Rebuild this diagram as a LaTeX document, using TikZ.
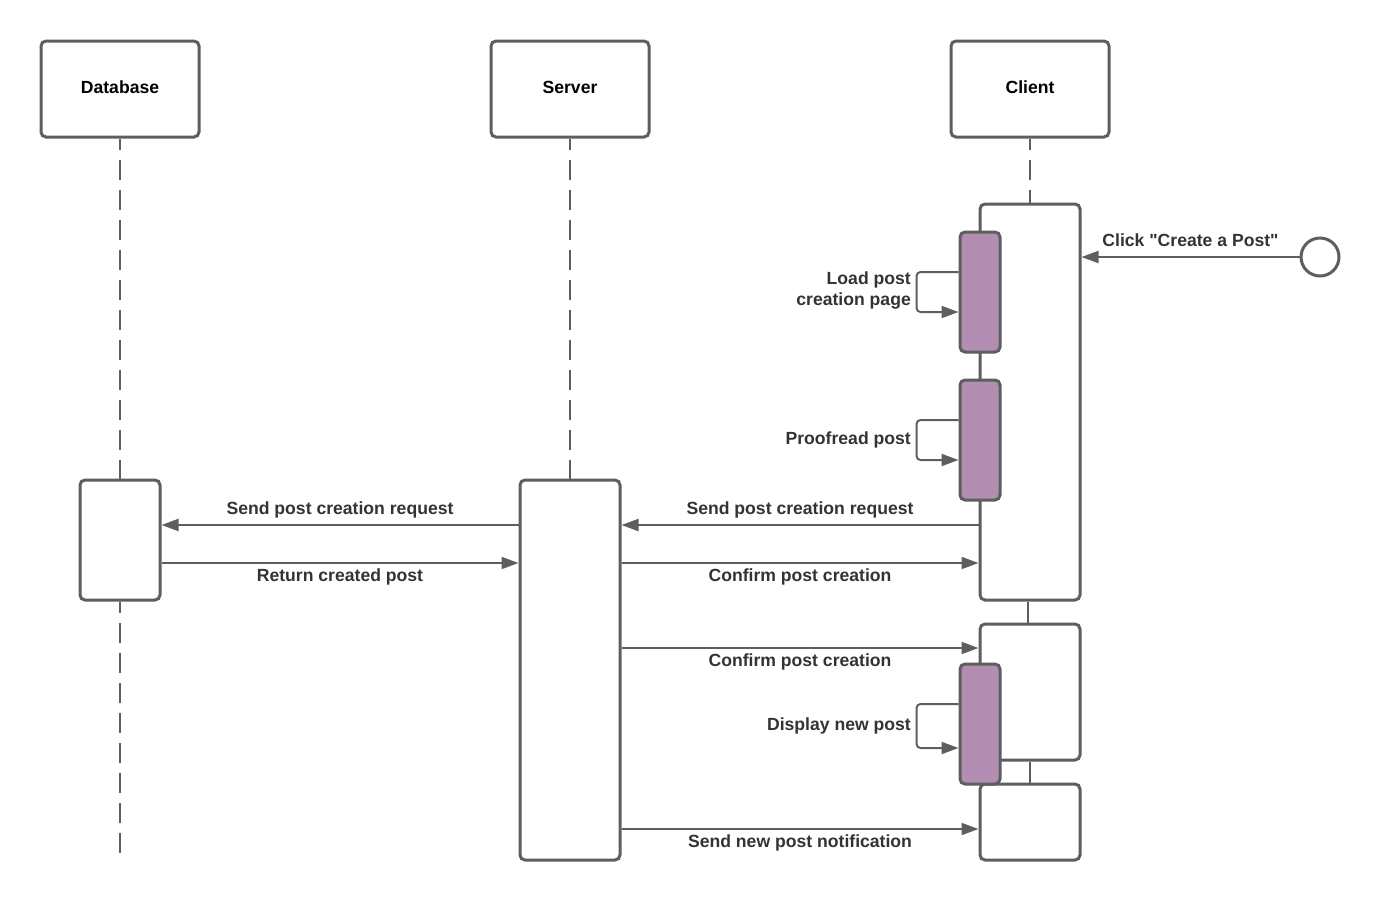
\documentclass[tikz,border=0pt]{standalone}
\usepackage{fontspec}
\setmainfont{Liberation Sans}[Ligatures=TeXOff]
\usetikzlibrary{arrows.meta}
\definecolor{linegray}{RGB}{94,94,94}
\definecolor{actpurple}{RGB}{179,142,179}
\definecolor{labelgray}{RGB}{51,51,51}
\tikzset{
  head/.style={draw=linegray, line width=3pt, rounded corners=5pt, fill=white, text depth=4pt,
    minimum width=158pt, minimum height=96pt, font=\bfseries\fontsize{17.6}{21}\selectfont},
  act/.style={draw=linegray, line width=3pt, rounded corners=5pt, fill=white, inner sep=0pt},
  sub/.style={act, fill=actpurple, minimum width=40pt, minimum height=120pt},
  lifeline/.style={draw=linegray, line width=2pt, dash pattern=on 20pt off 10pt, dash phase=9pt},
  link/.style={draw=linegray, line width=2pt},
  msg/.style={draw=linegray, line width=2pt, -{Triangle[length=17pt,width=12pt]}},
  selfmsg/.style={msg, rounded corners=4pt},
  lbl/.style={text=labelgray, font=\bfseries\fontsize{17.6}{21}\selectfont, inner sep=0pt},
}
\begin{document}
\begin{tikzpicture}[x=1pt,y=-1pt]
  \useasboundingbox (0,0) rectangle (1380,900);
  % Heads
  \node[head] (db)  at (120,89)  {Database};
  \node[head] (srv) at (570,89)  {Server};
  \node[head] (cli) at (1030,89) {Client};
  % Activations
  \node[act, minimum width=80pt,  minimum height=120pt] (dbAct)  at (120,540)  {};
  \node[act, minimum width=100pt, minimum height=380pt] (srvAct) at (570,670)  {};
  \node[act, minimum width=100pt, minimum height=396pt] (cAct1)  at (1030,402) {};
  \node[act, minimum width=100pt, minimum height=136pt] (cAct2)  at (1030,692) {};
  \node[act, minimum width=100pt, minimum height=76pt]  (cAct3)  at (1030,822) {};
  \node[sub] (load)    at (980,292) {};
  \node[sub] (proof)   at (980,440) {};
  \node[sub] (display) at (980,724) {};
  \node[draw=linegray, line width=3pt, circle, fill=white, minimum size=38pt] (start) at (1320,257) {};
  % Coordinates
  \coordinate (dbEnd) at (120,862);
  \coordinate (yReq)  at (0,525);
  \coordinate (yRet)  at (0,563);
  \coordinate (yConf) at (0,648);
  \coordinate (yNote) at (0,829);

  % Lifelines
  \draw[lifeline] (db.south) -- (dbAct.north);
  \draw[lifeline] (dbAct.south) -- (dbEnd);
  \draw[lifeline] (srv.south) -- (srvAct.north);
  \draw[lifeline] (cli.south) -- (cAct1.north);
  \draw[link] ([xshift=-2pt]cAct1.south) -- ([xshift=-2pt]cAct2.north);
  \draw[link] (cAct2.south) -- (cAct3.north);

  % Messages
  \draw[msg] (start.west) -- node[lbl, anchor=base, yshift=11pt] (lClick) {Click "Create a Post"} (cAct1.east |- start);
  \draw[selfmsg] ([yshift=20pt]load.west) -- ++(-42,0) -- ++(0,40) -- ([yshift=-20pt]load.west);
  \draw[selfmsg] ([yshift=20pt]proof.west) -- ++(-42,0) -- ++(0,40) -- ([yshift=-20pt]proof.west);
  \draw[selfmsg] ([yshift=20pt]display.west) -- ++(-42,0) -- ++(0,44) -- ([yshift=-24pt]display.west);
  \draw[msg] (cAct1.west |- yReq) -- node[lbl, anchor=base, yshift=11pt] (lReq1) {Send post creation request} (srvAct.east |- yReq);
  \draw[msg] (srvAct.west |- yReq) -- node[lbl, anchor=base, yshift=11pt] (lReq2) {Send post creation request} (dbAct.east |- yReq);
  \draw[msg] (dbAct.east |- yRet) -- node[lbl, anchor=base, yshift=-18pt] (lRet) {Return created post} (srvAct.west |- yRet);
  \draw[msg] (srvAct.east |- yRet) -- node[lbl, anchor=base, yshift=-18pt] (lConf1) {Confirm post creation} (cAct1.west |- yRet);
  \draw[msg] (srvAct.east |- yConf) -- node[lbl, anchor=base, yshift=-18pt] (lConf2) {Confirm post creation} (cAct2.west |- yConf);
  \draw[msg] (srvAct.east |- yNote) -- node[lbl, anchor=base, yshift=-18pt] (lNote) {Send new post notification} (cAct3.west |- yNote);

  % Labels
  \node[lbl, anchor=east, align=right] (lLoad) at (911,290) {Load post\\creation page};
  \node[lbl, anchor=base east] (lProof) at (911,444) {Proofread post};
  \node[lbl, anchor=base east] (lDisplay) at (911,730) {Display new post};
\end{tikzpicture}
\end{document}
